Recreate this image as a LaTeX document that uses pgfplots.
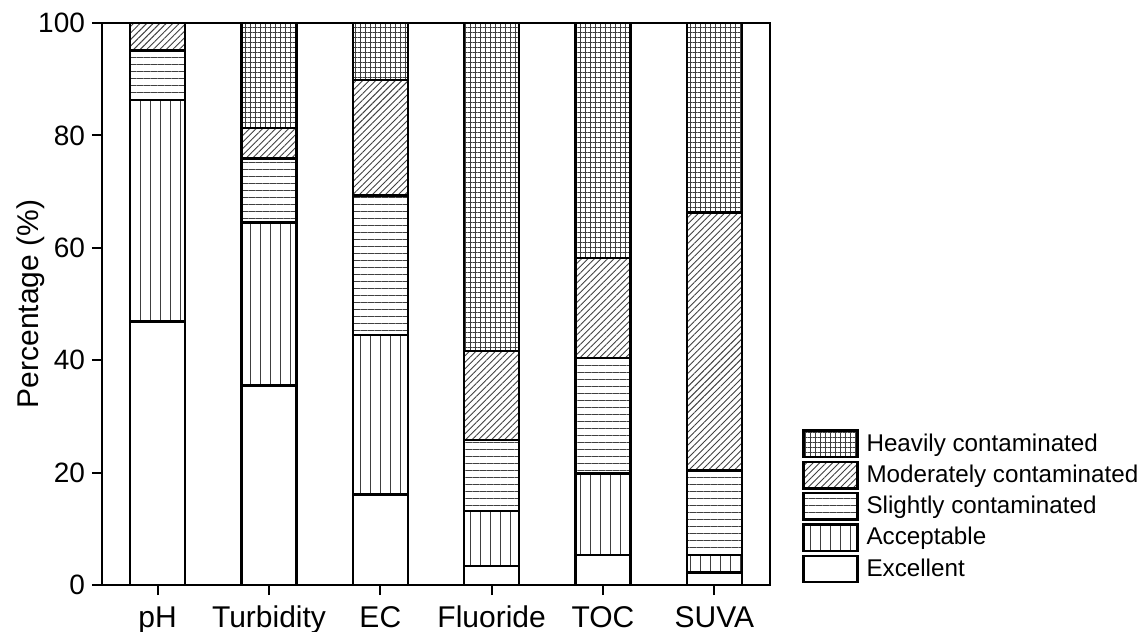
\documentclass[border=0pt]{standalone}
\usepackage{pgfplots}
\pgfplotsset{compat=1.18}
\usepackage{fontspec}
\setmainfont{Liberation Sans}
\usetikzlibrary{patterns.meta}

\pgfplotsset{
  catbar/.style={draw=black, line width=1.25pt, pattern color=black!75},
}

\begin{document}
\begin{tikzpicture}
\path[use as bounding box] (-51pt,-23.5pt) rectangle (519.5pt,292.5pt);
\begin{axis}[
  at={(0,0)}, anchor=south west,
  scale only axis, width=334pt, height=281pt,
  ybar stacked, bar width=27.5pt,
  xmin=-0.5, xmax=5.5, ymin=0, ymax=100,
  xtick={0,1,2,3,4,5},
  xticklabels={pH,Turbidity,EC,Fluoride,TOC,SUVA},
  ytick={0,20,40,60,80,100},
  xtick pos=left, ytick pos=left,
  tick align=outside, major tick length=5pt,
  tick style={black, line width=1pt},
  axis line style={line width=1pt},
  /pgf/number format/assume math mode=true,
  yticklabel style={font=\fontsize{14}{16}\selectfont},
  xticklabel style={font=\fontsize{15}{18}\selectfont, anchor=base, yshift=-16pt},
  ylabel={Percentage (\%)},
  ylabel style={font=\fontsize{15}{18}\selectfont,
    at={(axis description cs:-0.106,0.5)}, anchor=center},
  reverse legend,
  legend style={at={(1.048,0.002)}, anchor=south west, draw=none, fill=none,
    inner sep=0pt, row sep=1.2pt, font=\fontsize{12.1}{15}\selectfont,
    nodes={inner xsep=3.8pt}},
  legend cell align=left,
  legend image code/.code={\draw[#1, line width=1.25pt] (0pt,-6.6pt) rectangle (27pt,6.6pt);},
]
% Excellent
\addplot[catbar, fill=white] coordinates {(0,46.9) (1,35.5) (2,16.1) (3,3.4) (4,5.3) (5,2.2)};
% Acceptable
\addplot[catbar, pattern={Lines[angle=90, distance=5pt, line width=0.5pt]}]
  coordinates {(0,39.4) (1,29.0) (2,28.4) (3,9.8) (4,14.5) (5,3.1)};
% Slightly contaminated
\addplot[catbar, pattern={Lines[angle=0, distance=3.5pt, line width=0.5pt]}]
  coordinates {(0,8.8) (1,11.4) (2,24.8) (3,12.6) (4,20.6) (5,15.1)};
% Moderately contaminated
\addplot[catbar, pattern={Lines[angle=45, distance=2.3pt, line width=0.45pt]}]
  coordinates {(0,4.9) (1,5.4) (2,20.6) (3,15.8) (4,17.8) (5,45.9)};
% Heavily contaminated
\addplot[catbar, pattern={Hatch[angle=0, distance=2.5pt, line width=0.45pt]}]
  coordinates {(0,0) (1,18.7) (2,10.1) (3,58.4) (4,41.8) (5,33.7)};
\legend{Excellent, Acceptable, Slightly contaminated, Moderately contaminated, Heavily contaminated}
\end{axis}
\end{tikzpicture}
\end{document}
